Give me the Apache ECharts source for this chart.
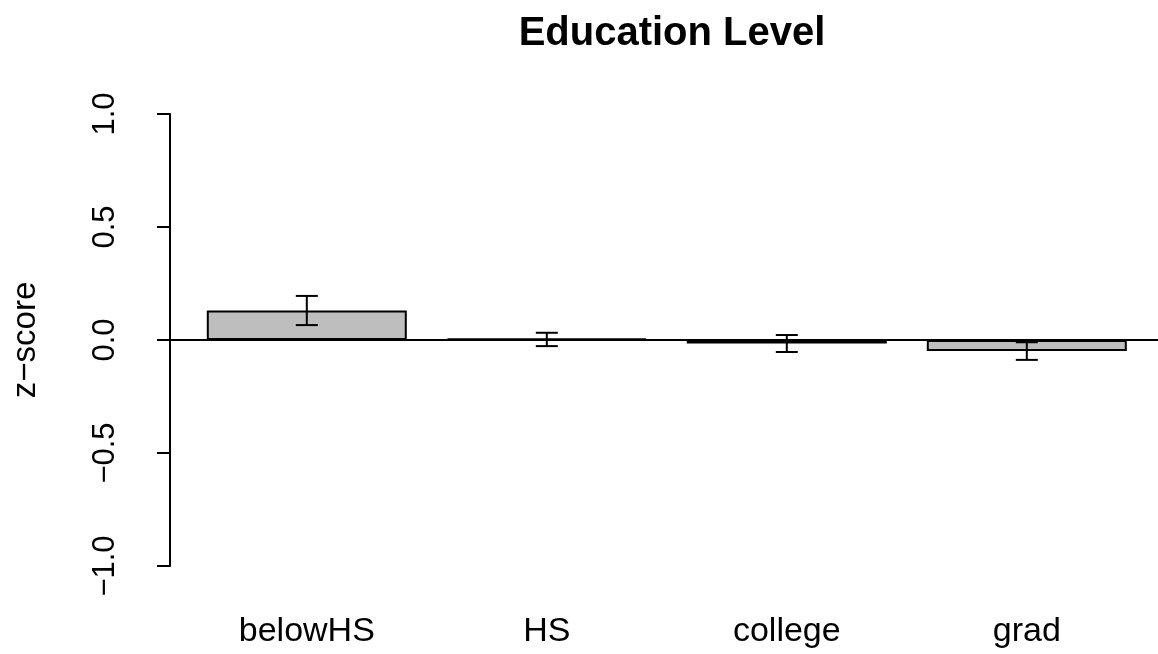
<!DOCTYPE html>
<html>
<head>
<meta charset="utf-8">
<title>Education Level</title>
<script src="https://cdn.jsdelivr.net/npm/echarts@6/dist/echarts.min.js"></script>
<style>
  html, body { margin: 0; padding: 0; background: #fff; }
  #chart { width: 1158px; height: 654px; }
</style>
</head>
<body>
<div id="chart"></div>
<script>
var categories = ['belowHS', 'HS', 'college', 'grad'];
var means = [0.13, 0.006, -0.016, -0.049];
var lower = [0.066, -0.027, -0.053, -0.088];
var upper = [0.195, 0.032, 0.022, -0.010];
var yTicks = [-1, -0.5, 0, 0.5, 1];

// barplot layout: bar width 1, space 0.2 (R coordinates)
var centers = categories.map(function (c, i) { return 0.2 + i * 1.2 + 0.5; });

var font = 'Liberation Sans, Arial, Helvetica, sans-serif';

function fmt(v) {
    var s = Math.abs(v).toFixed(1);
    return v < 0 ? '\u2212' + s : s;
}

var barData = means.map(function (m, i) { return [centers[i], m]; });
var errData = means.map(function (m, i) { return [centers[i], lower[i], upper[i]]; });

var option = {
    animation: false,
    backgroundColor: '#ffffff',
    title: {
        text: 'Education Level',
        left: 667,
        top: 9,
        textAlign: 'center',
        textStyle: { fontFamily: font, fontSize: 40, fontWeight: 'bold', color: '#000' }
    },
    grid: { left: 170, right: 0, top: 114, bottom: 88 },
    xAxis: {
        type: 'value',
        min: 0.016,
        max: 4.956,
        axisLine: { show: false, onZero: false },
        axisTick: { show: false },
        splitLine: { show: false },
        axisLabel: {
            customValues: centers,
            margin: 49,
            fontFamily: font,
            fontSize: 34,
            color: '#000',
            formatter: function (v) {
                for (var i = 0; i < centers.length; i++) {
                    if (Math.abs(centers[i] - v) < 1e-6) return categories[i];
                }
                return '';
            }
        }
    },
    yAxis: {
        type: 'value',
        min: -1,
        max: 1,
        interval: 0.5,
        name: 'z\u2212score',
        nameLocation: 'middle',
        nameGap: 128,
        nameRotate: 90,
        nameTextStyle: { fontFamily: font, fontSize: 33, color: '#000' },
        axisLine: { show: true, lineStyle: { color: '#000', width: 2 } },
        axisTick: { show: true, length: 13, lineStyle: { color: '#000', width: 2 } },
        splitLine: { show: false },
        axisLabel: {
            customValues: yTicks,
            rotate: 90,
            margin: 49,
            fontFamily: font,
            fontSize: 31,
            color: '#000',
            formatter: fmt
        }
    },
    series: [
        {
            type: 'bar',
            data: barData,
            barWidth: 200,
            itemStyle: { color: '#bebebe', borderColor: '#000', borderWidth: 2 },
            markLine: {
                silent: true,
                symbol: 'none',
                label: { show: false },
                lineStyle: { color: '#000', width: 2, type: 'solid' },
                data: [{ yAxis: 0 }]
            }
        },
        {
            type: 'custom',
            data: errData,
            z: 5,
            renderItem: function (params, api) {
                var x = api.value(0);
                var lo = api.coord([x, api.value(1)]);
                var hi = api.coord([x, api.value(2)]);
                var cap = 11;
                var st = { stroke: '#000', lineWidth: 2 };
                return {
                    type: 'group',
                    children: [
                        { type: 'line', shape: { x1: lo[0], y1: lo[1], x2: hi[0], y2: hi[1] }, style: st },
                        { type: 'line', shape: { x1: lo[0] - cap, y1: lo[1], x2: lo[0] + cap, y2: lo[1] }, style: st },
                        { type: 'line', shape: { x1: hi[0] - cap, y1: hi[1], x2: hi[0] + cap, y2: hi[1] }, style: st }
                    ]
                };
            }
        }
    ]
};

var myChart = echarts.init(document.getElementById('chart'));
myChart.setOption(option);
</script>
</body>
</html>
